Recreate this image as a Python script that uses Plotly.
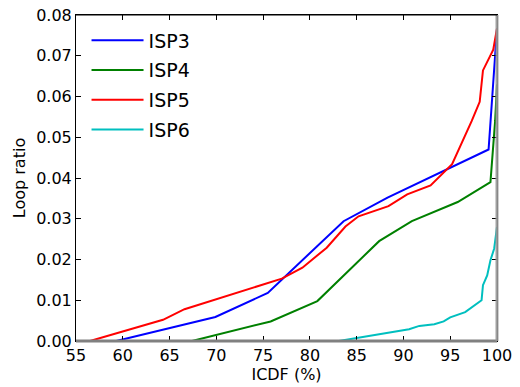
import plotly.graph_objects as go

# ICDF (%) vs loop ratio
isp3_x = [59.3, 69.9, 75.5, 83.6, 88.3, 99.1, 100.0]
isp3_y = [0.0, 0.0059, 0.0118, 0.0294, 0.0352, 0.0470, 0.0767]

isp4_x = [67.4, 74.4, 75.8, 80.8, 87.4, 90.9, 95.8, 99.3, 99.8, 100.0]
isp4_y = [0.0, 0.0041, 0.0048, 0.0098, 0.0245, 0.0294, 0.0341, 0.0390, 0.0540, 0.0630]

isp5_x = [56.5, 64.3, 66.6, 70.0, 74.7, 77.0, 79.2, 81.8, 83.8, 85.2, 88.4, 90.4,
          92.9, 95.2, 97.3, 98.15, 98.5, 99.6, 100.0]
isp5_y = [0.0, 0.0052, 0.0078, 0.0102, 0.0135, 0.0153, 0.0180, 0.0229, 0.0281, 0.0306,
          0.0331, 0.0360, 0.0382, 0.0434, 0.0540, 0.0587, 0.0664, 0.0715, 0.0767]

isp6_x = [83.1, 85.0, 90.6, 91.7, 93.3, 94.3, 95.0, 96.6, 97.7, 98.35, 98.5, 98.95,
          99.3, 99.7, 100.0]
isp6_y = [0.0, 0.0007, 0.0029, 0.0037, 0.0041, 0.0048, 0.0058, 0.0071, 0.0088, 0.0100,
          0.0137, 0.0161, 0.0198, 0.0227, 0.0280]

names = ["ISP3", "ISP4", "ISP5", "ISP6"]
colors = ["#0000ff", "#008000", "#ff0000", "#00bfbf"]
series_x = [isp3_x, isp4_x, isp5_x, isp6_x]
series_y = [isp3_y, isp4_y, isp5_y, isp6_y]

x_ticks = [55, 60, 65, 70, 75, 80, 85, 90, 95, 100]
y_ticks = [0.00, 0.01, 0.02, 0.03, 0.04, 0.05, 0.06, 0.07, 0.08]

FONT = "DejaVu Sans"

fig = go.Figure()
for n, c, xs, ys in zip(names, colors, series_x, series_y):
    fig.add_trace(go.Scatter(x=xs, y=ys, mode="lines", name=n,
                             line=dict(color=c, width=2), legendgroup=n))

# gray overlay along bottom and right spines; black top spine
fig.add_shape(type="line", xref="paper", yref="paper", x0=0, x1=1, y0=0, y1=0,
              line=dict(color="rgba(128,128,128,1)", width=3))
fig.add_shape(type="line", xref="paper", yref="paper", x0=1, x1=1, y0=0, y1=1,
              line=dict(color="rgba(150,150,150,0.9)", width=3))
fig.add_shape(type="line", xref="paper", yref="paper", x0=0, x1=1, y0=1, y1=1,
              line=dict(color="black", width=1))

axis_common = dict(showgrid=False, zeroline=False, showline=True, linecolor="black",
                   linewidth=1, mirror="ticks", ticks="inside", ticklen=5,
                   tickcolor="black", ticklabeloverflow="allow",
                   tickfont=dict(family=FONT, size=16, color="black"))

fig.update_xaxes(range=[55, 100], tickvals=x_ticks, ticktext=[str(v) for v in x_ticks],
                 title=dict(text="ICDF (%)", font=dict(family=FONT, size=16, color="black"),
                            standoff=4),
                 **axis_common)
fig.update_yaxes(range=[0, 0.08], tickvals=y_ticks, ticktext=[f"{v:.2f}" for v in y_ticks],
                 title=dict(text="Loop ratio", font=dict(family=FONT, size=16, color="black"),
                            standoff=6),
                 **axis_common)

fig.update_layout(
    width=520, height=387,
    margin=dict(l=76, r=23, t=15, b=46, autoexpand=False),
    plot_bgcolor="white", paper_bgcolor="white",
    showlegend=True,
    legend=dict(x=0.025, y=0.98, xanchor="left", yanchor="top",
                font=dict(family=FONT, size=19, color="black"),
                bgcolor="rgba(0,0,0,0)", borderwidth=0,
                itemwidth=52, tracegroupgap=2),
)

fig.write_html("out.html",
               config={"displayModeBar": False},
               post_script="document.body.style.margin='0';document.body.style.overflow='hidden';")
